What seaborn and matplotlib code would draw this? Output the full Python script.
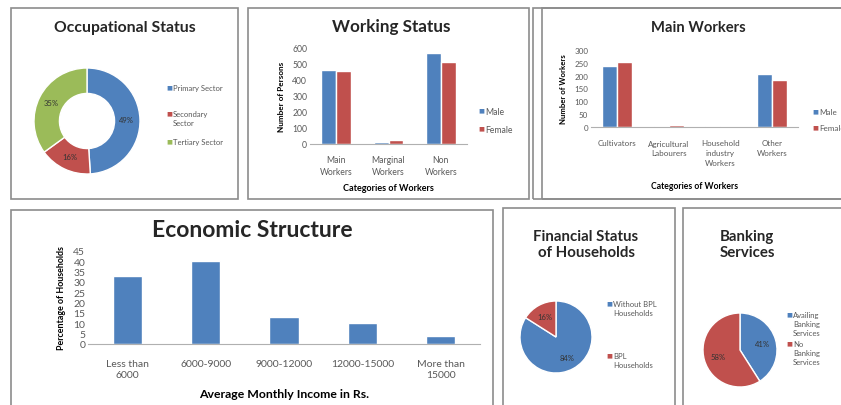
import numpy as np
import pandas as pd
import matplotlib.pyplot as plt
import seaborn as sns
from matplotlib.patches import Rectangle

# data
occ_labels = ['Primary Sector', 'Secondary\nSector', 'Tertiary Sector']
occ_share = [49, 16, 35]

work_cats = ['Main\nWorkers', 'Marginal\nWorkers', 'Non\nWorkers']
work_male = [455, 10, 565]
work_female = [450, 22, 505]

main_cats = ['Cultivators', 'Agricultural\nLabourers', 'Household\nindustry\nWorkers', 'Other\nWorkers']
main_male = [237, 5, 2, 207]
main_female = [253, 7, 1, 183]

income_cats = ['Less than\n6000', '6000-9000', '9000-12000', '12000-15000', 'More than\n15000']
income_pct = [33, 40, 13, 10, 4]

fin_labels = ['Without BPL\nHouseholds', 'BPL\nHouseholds']
fin_share = [84, 16]

bank_labels = ['Availing\nBanking\nServices', 'No\nBanking\nServices']
bank_share = [41, 59]

BLUE = '#4F81BD'
RED = '#C0504D'
GREEN = '#9BBB59'
GREY = '#595959'

sns.set_style('white')
plt.rcParams['font.family'] = ['Lato', 'DejaVu Sans']

W, H = 841, 406
fig = plt.figure(figsize=(W / 100, H / 100), dpi=100)


def px_axes(x0, y0, x1, y1):
    return fig.add_axes([x0 / W, 1 - y1 / H, (x1 - x0) / W, (y1 - y0) / H])


def panel(x0, y0, x1, y1):
    fig.patches.append(Rectangle((x0 / W, 1 - y1 / H), (x1 - x0) / W, (y1 - y0) / H,
                                 transform=fig.transFigure, fill=False,
                                 edgecolor='#8c8c8c', linewidth=1.2))


def ftext(x, y, s, **kw):
    fig.text(x / W, 1 - y / H, s, **kw)


def legend_items(x, ys, labels, colors, size=5.5):
    for y, lab, c in zip(ys, labels, colors):
        ftext(x, y, '\u25a0', color=c, fontsize=4.5, va='top', ha='left')
        ftext(x + 7, y, lab, color=GREY, fontsize=size, va='top', ha='left', linespacing=1.35)


# panel frames
panel(11, 9, 238, 200)
panel(248, 9, 529, 200)
panel(533, 9, 845, 200)
panel(542, 9, 845, 200)
panel(11, 211, 493, 410)
panel(503, 209, 675, 410)
panel(683, 209, 845, 410)


def style_bar_axes(ax, ylabel, xlabel, tick=6, lab=6, pad=6, xpad=8):
    for s in ['top', 'right', 'left']:
        ax.spines[s].set_visible(False)
    ax.spines['bottom'].set_color('#b0b0b0')
    ax.tick_params(axis='both', colors=GREY, labelsize=tick, length=0, pad=2)
    ax.tick_params(axis='x', pad=pad)
    for t in ax.get_xticklabels():
        t.set_linespacing(1.45)
    ax.set_ylabel(ylabel, fontsize=lab, fontweight='bold', color='black', labelpad=5)
    ax.set_xlabel(xlabel, fontsize=lab + 0.6, fontweight='bold', color='black', labelpad=xpad)
    if ax.get_legend() is not None:
        ax.get_legend().remove()


# Occupational status donut
ax = px_axes(34, 69, 140, 175)
ax.pie(occ_share, colors=[BLUE, RED, GREEN], startangle=90, counterclock=False,
       autopct='%d%%', pctdistance=0.75, wedgeprops=dict(width=0.48),
       textprops=dict(fontsize=5.5, color='#333333'))
ax.set_xlim(-1, 1); ax.set_ylim(-1, 1); ax.set_aspect('equal')
ax.axis('off')
ftext(125, 28, 'Occupational Status', fontsize=11.3, fontweight='bold', ha='center', va='center')
legend_items(166, [85, 111, 139], occ_labels, [BLUE, RED, GREEN])

# Working status
df_w = pd.DataFrame({'cat': work_cats * 2, 'val': work_male + work_female,
                     'sex': ['Male'] * 3 + ['Female'] * 3})
ax = px_axes(310, 48, 467, 145)
sns.barplot(data=df_w, x='cat', y='val', hue='sex', palette=[BLUE, RED], width=0.57,
            saturation=1, ax=ax)
ax.set_ylim(0, 600)
ax.set_yticks(range(0, 601, 100))
style_bar_axes(ax, 'Number of Persons', 'Categories of Workers', tick=6.2, lab=5.9, pad=8, xpad=5)
ftext(391, 27, 'Working Status', fontsize=12.3, fontweight='bold', ha='center', va='center')
legend_items(478, [108, 126], ['Male', 'Female'], [BLUE, RED], size=6.2)

# Main workers
df_m = pd.DataFrame({'cat': main_cats * 2, 'val': main_male + main_female,
                     'sex': ['Male'] * 4 + ['Female'] * 4})
ax = px_axes(591, 51, 798, 128)
sns.barplot(data=df_m, x='cat', y='val', hue='sex', palette=[BLUE, RED], width=0.58,
            saturation=1, ax=ax)
ax.set_ylim(0, 300)
ax.set_yticks(range(0, 301, 50))
style_bar_axes(ax, 'Number of Workers', 'Categories of Workers', tick=5.8, lab=5.6, pad=9, xpad=11)
ftext(698, 28, 'Main Workers', fontsize=10.6, fontweight='bold', ha='center', va='center')
legend_items(812, [109, 125], ['Male', 'Female'], [BLUE, RED], size=5.8)

# Economic structure
df_e = pd.DataFrame({'cat': income_cats, 'val': income_pct})
ax = px_axes(88, 252, 480, 345)
sns.barplot(data=df_e, x='cat', y='val', color=BLUE, width=0.37, saturation=1, ax=ax)
ax.set_ylim(0, 45)
ax.set_yticks(range(0, 46, 5))
style_bar_axes(ax, 'Percentage of Households', 'Average Monthly Income in Rs.',
               tick=7.5, lab=6.4, pad=11, xpad=7)
ax.xaxis.label.set_size(8.8)
for t in ax.get_xticklabels():
    t.set_linespacing(1.2)
ftext(252, 231, 'Economic Structure', fontsize=16.5, fontweight='bold', ha='center', va='center')

# Financial status
ax = px_axes(520, 302, 592, 374)
ax.pie(fin_share, colors=[BLUE, RED], startangle=90, counterclock=False, autopct='%d%%',
       pctdistance=0.66, textprops=dict(fontsize=5.5, color='#333333'))
ax.set_xlim(-1, 1); ax.set_ylim(-1, 1); ax.set_aspect('equal')
ax.axis('off')
ftext(586, 245, 'Financial Status\nof Households', fontsize=10.8, fontweight='bold',
      ha='center', va='center', linespacing=1.2)
legend_items(606, [301, 353], fin_labels, [BLUE, RED])

# Banking services
ax = px_axes(703, 314, 777, 388)
ax.pie(bank_share, colors=[BLUE, RED], startangle=90, counterclock=False, autopct='%d%%',
       pctdistance=0.62, textprops=dict(fontsize=5.5, color='#333333'))
ax.set_xlim(-1, 1); ax.set_ylim(-1, 1); ax.set_aspect('equal')
ax.axis('off')
ftext(747, 245, 'Banking\nServices', fontsize=10.8, fontweight='bold',
      ha='center', va='center', linespacing=1.2)
legend_items(786, [312, 341], bank_labels, [BLUE, RED])

fig.savefig('out.png', dpi=100)
